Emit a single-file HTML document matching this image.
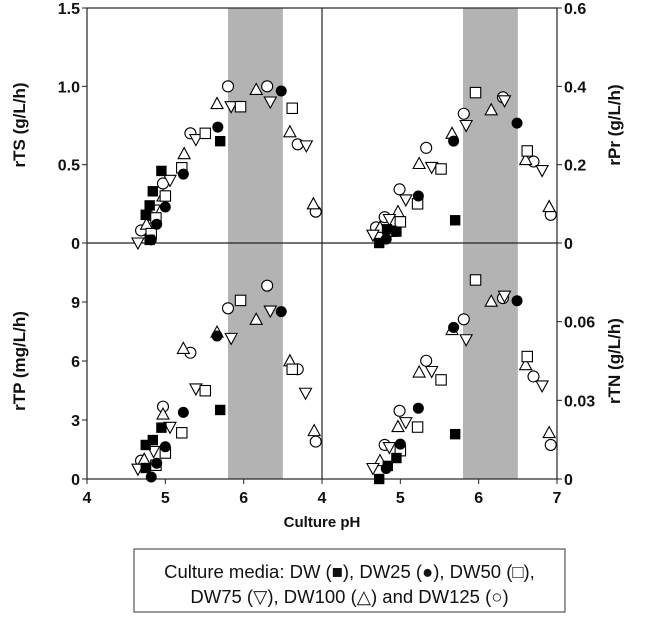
<!DOCTYPE html>
<html><head><meta charset="utf-8"><style>
body{margin:0;background:#fff;width:650px;height:622px;overflow:hidden}
svg{display:block;font-family:"Liberation Sans",Arial,sans-serif}
</style></head><body>
<svg id="c" width="650" height="622"></svg>
<script>
const tsDW=[[4.95,0.46],[4.84,0.33],[4.80,0.24],[4.75,0.18],[5.70,0.65],[4.80,0.02]];
const tsDW25=[[6.48,0.97],[5.67,0.74],[5.23,0.44],[5.00,0.23],[4.89,0.12],[4.82,0.02]];
const tsDW50=[[5.96,0.87],[5.51,0.70],[5.21,0.48],[6.62,0.86],[4.88,0.16],[5.00,0.30],[4.82,0.06]];
const tsDW75=[[5.84,0.87],[6.34,0.90],[5.39,0.66],[6.80,0.62],[5.06,0.40],[4.86,0.21],[4.65,0.00]];
const tsDW100=[[5.66,0.89],[6.16,0.98],[5.24,0.57],[6.59,0.71],[6.89,0.25],[4.97,0.30],[4.76,0.12]];
const tsDW125=[[5.80,1.00],[6.30,1.00],[5.32,0.70],[4.97,0.38],[6.92,0.20],[6.69,0.63],[4.69,0.08],[4.79,0.18]];

const prDW=[[5.70,0.058],[4.95,0.029],[4.83,0.035],[4.73,0.0]];
const prDW25=[[6.49,0.306],[5.68,0.26],[5.23,0.12],[4.82,0.01]];
const prDW50=[[5.96,0.384],[6.62,0.235],[5.52,0.189],[5.22,0.10],[5.00,0.054],[4.88,0.03]];
const prDW75=[[5.84,0.30],[6.33,0.363],[5.40,0.193],[6.81,0.185],[5.07,0.11],[4.86,0.06],[4.65,0.02]];
const prDW100=[[5.66,0.28],[6.16,0.34],[5.24,0.203],[6.60,0.213],[6.90,0.093],[4.97,0.08],[4.74,0.04]];
const prDW125=[[5.81,0.33],[6.31,0.372],[5.33,0.243],[4.99,0.137],[6.70,0.208],[6.92,0.072],[4.80,0.066],[4.69,0.04]];

const tpDW=[[5.70,3.51],[4.95,2.61],[4.84,1.98],[4.75,1.73],[4.75,0.56]];
const tpDW25=[[6.48,8.51],[5.66,7.27],[5.23,3.39],[5.00,1.64],[4.89,0.8],[4.82,0.1]];
const tpDW50=[[5.96,9.08],[5.51,4.49],[5.21,2.35],[6.62,5.58],[5.00,1.32],[4.88,0.7]];
const tpDW75=[[5.84,7.15],[6.34,8.54],[5.39,4.58],[6.79,4.36],[5.06,2.63],[4.85,1.4],[4.65,0.5]];
const tpDW100=[[5.66,7.47],[6.16,8.12],[5.23,6.64],[6.59,6.01],[6.90,2.46],[4.97,3.3],[4.73,1.0]];
const tpDW125=[[6.30,9.83],[5.80,8.68],[5.32,6.42],[4.97,3.68],[6.69,5.58],[6.92,1.90],[4.69,0.93]];

const tnDW=[[5.70,0.0171],[4.95,0.008],[4.84,0.005],[4.73,0.0]];
const tnDW25=[[6.49,0.068],[5.68,0.0578],[5.23,0.027],[5.00,0.0133],[4.82,0.004]];
const tnDW50=[[5.96,0.0759],[6.62,0.0467],[5.52,0.0378],[5.22,0.0198],[5.00,0.0108]];
const tnDW75=[[5.84,0.0531],[6.33,0.0697],[5.40,0.041],[6.81,0.0355],[5.07,0.0215],[4.86,0.012],[4.65,0.004]];
const tnDW100=[[5.66,0.057],[6.16,0.0678],[5.24,0.0408],[6.60,0.0436],[6.90,0.0177],[4.97,0.02],[4.74,0.007]];
const tnDW125=[[5.81,0.0609],[6.31,0.069],[5.33,0.0451],[4.99,0.026],[6.70,0.0391],[6.92,0.013],[4.80,0.013]];

const xTicks=[4,5,6,7];
const tsTicks=["0","0.5","1.0","1.5"], tsVals=[0,0.5,1.0,1.5];
const prTicks=["0","0.2","0.4","0.6"], prVals=[0,0.2,0.4,0.6];
const tpTicks=["0","3","6","9"], tpVals=[0,3,6,9];
const tnTicks=["0","0.03","0.06"], tnVals=[0,0.03,0.06];
const band=[5.8,6.5];

const svg=document.getElementById('c');
const NS='http://www.w3.org/2000/svg';
function mk(t,a,p){const e=document.createElementNS(NS,t);for(const k in a)e.setAttribute(k,a[k]);(p||svg).appendChild(e);return e;}

const L=87,M=322,R=557,T=8,MID=243,B=479;
const panels=[
 {x0:L,y0:T,y1:MID,ymax:1.5,sets:[tsDW,tsDW25,tsDW50,tsDW75,tsDW100,tsDW125],name:'rts-panel'},
 {x0:M,y0:T,y1:MID,ymax:0.6,sets:[prDW,prDW25,prDW50,prDW75,prDW100,prDW125],name:'rpr-panel'},
 {x0:L,y0:MID,y1:B,ymax:12,sets:[tpDW,tpDW25,tpDW50,tpDW75,tpDW100,tpDW125],name:'rtp-panel'},
 {x0:M,y0:MID,y1:B,ymax:0.09,sets:[tnDW,tnDW25,tnDW50,tnDW75,tnDW100,tnDW125],name:'rtn-panel'}
];
const W=(M-L)/3;
function sx(p,ph){return p.x0+(ph-4)*W;}
function sy(p,v){return p.y1-v/p.ymax*(p.y1-p.y0);}

panels.forEach(p=>{
 const r=mk('rect',{x:sx(p,band[0]),y:p.y0,width:sx(p,band[1])-sx(p,band[0]),height:p.y1-p.y0,fill:'#b3b3b3'});
 
 
});
const fr=mk('rect',{x:L,y:T,width:R-L,height:B-T,fill:'none',stroke:'#222','stroke-width':1.2});

mk('line',{x1:M,y1:T,x2:M,y2:B,stroke:'#222','stroke-width':1.2});
mk('line',{x1:L,y1:MID,x2:R,y2:MID,stroke:'#222','stroke-width':1.2});

function label(x,y,t,anchor,name,size){const e=mk('text',{x:x,y:y,'text-anchor':anchor,'font-size':size||16,'font-weight':'bold',fill:'#111'});e.textContent=t;
 return e;}
function yAxis(p,vals,labs,side){vals.forEach((v,i)=>{const y=sy(p,v);
 if(side==='l'){mk('line',{x1:L-5,y1:y,x2:L,y2:y,stroke:'#222'});label(L-7,y+6,labs[i],'end','y-tick-label');}
 else{mk('line',{x1:R,y1:y,x2:R+5,y2:y,stroke:'#222'});label(R+7,y+6,labs[i],'start','y-tick-label');}});}
yAxis(panels[0],tsVals,tsTicks,'l');yAxis(panels[1],prVals,prTicks,'r');
yAxis(panels[2],tpVals,tpTicks,'l');yAxis(panels[3],tnVals,tnTicks,'r');
[panels[2],panels[3]].forEach((p,pi)=>{xTicks.forEach(t=>{if(pi===0&&t===7)return;const x=sx(p,t);
 mk('line',{x1:x,y1:B,x2:x,y2:B+5,stroke:'#222'});label(x,B+24,String(t),'middle','x-tick-label');});});
label(M,527,'Culture pH','middle','x-axis-title',15);
function ytitle(x,y,t,name){const e=label(x,y,t,'middle',name,17);e.setAttribute('transform','rotate(-90 '+x+' '+y+')');}
ytitle(25,125,'rTS (g/L/h)','rts-axis-title');ytitle(25,361,'rTP (mg/L/h)','rtp-axis-title');
ytitle(620,125,'rPr (g/L/h)','rpr-axis-title');ytitle(620,361,'rTN (g/L/h)','rtn-axis-title');

const snames=['dw','dw25','dw50','dw75','dw100','dw125'];
function marker(k,x,y){const s=5.2;let e;
 const st={stroke:'#000','stroke-width':1.1};
 if(k===0)e=mk('rect',{x:x-s,y:y-s,width:2*s,height:2*s,fill:'#000'});
 else if(k===1)e=mk('circle',{cx:x,cy:y,r:s+0.3,fill:'#000'});
 else if(k===2)e=mk('rect',Object.assign({x:x-s,y:y-s,width:2*s,height:2*s,fill:'#fff'},st));
 else if(k===3)e=mk('polygon',Object.assign({points:(x-6)+','+(y-5)+' '+(x+6)+','+(y-5)+' '+x+','+(y+6),fill:'#fff'},st));
 else if(k===4)e=mk('polygon',Object.assign({points:(x-6)+','+(y+5)+' '+(x+6)+','+(y+5)+' '+x+','+(y-6),fill:'#fff'},st));
 else e=mk('circle',Object.assign({cx:x,cy:y,r:s+0.3,fill:'#fff'},st));
 return e;}
panels.forEach(p=>{[5,4,3,2,1,0].forEach(k=>{p.sets[k].forEach(d=>{
 const e=marker(k,sx(p,d[0]),sy(p,d[1]));
 
 });});});

const lg=mk('rect',{x:134,y:549,width:431,height:63,fill:'#fff',stroke:'#333','stroke-width':1});

function lt(y,t){const e=mk('text',{x:349.5,y:y,'text-anchor':'middle','font-size':18.5,fill:'#111'});e.textContent=t;
 }
lt(578,'Culture media: DW (\u25A0), DW25 (\u25CF), DW50 (\u25A1),');
lt(603,'DW75 (\u25BD), DW100 (\u25B3) and DW125 (\u25CB)');
</script>
</body></html>
